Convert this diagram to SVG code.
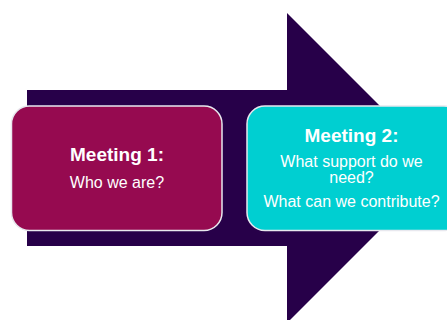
<svg xmlns="http://www.w3.org/2000/svg" width="447" height="320" viewBox="0 0 447 320">
  <style>
    .box { stroke: #e8e8ee; stroke-width: 1.5; }
    .title { font-family: "Liberation Sans", Arial, sans-serif; font-weight: bold; font-size: 19px; fill: #ffffff; text-anchor: middle; }
    .body { font-family: "Liberation Sans", Arial, sans-serif; font-size: 16px; fill: #ffffff; text-anchor: middle; }
  </style>
  <rect width="447" height="320" fill="#ffffff"/>
  <!-- Large process arrow behind the boxes -->
  <g id="connectors">
    <polygon fill="#270049" points="27,90 287,90 287,13 442,168 287,323 287,246 27,246"/>
  </g>
  <g id="meeting1">
    <rect class="box" x="11.5" y="106" width="210.5" height="124.5" rx="18" fill="#960A50"/>
    <text class="title" x="117" y="161">Meeting 1:</text>
    <text class="body" x="117" y="188">Who we are?</text>
  </g>
  <g id="meeting2">
    <rect class="box" x="247" y="106" width="215" height="124.5" rx="18" fill="#00CFD1"/>
    <text class="title" x="351.5" y="142">Meeting 2:</text>
    <text class="body" x="351.5" y="167">What support do we</text>
    <text class="body" x="351.5" y="183">need?</text>
    <text class="body" x="351.5" y="207">What can we contribute?</text>
  </g>
</svg>
